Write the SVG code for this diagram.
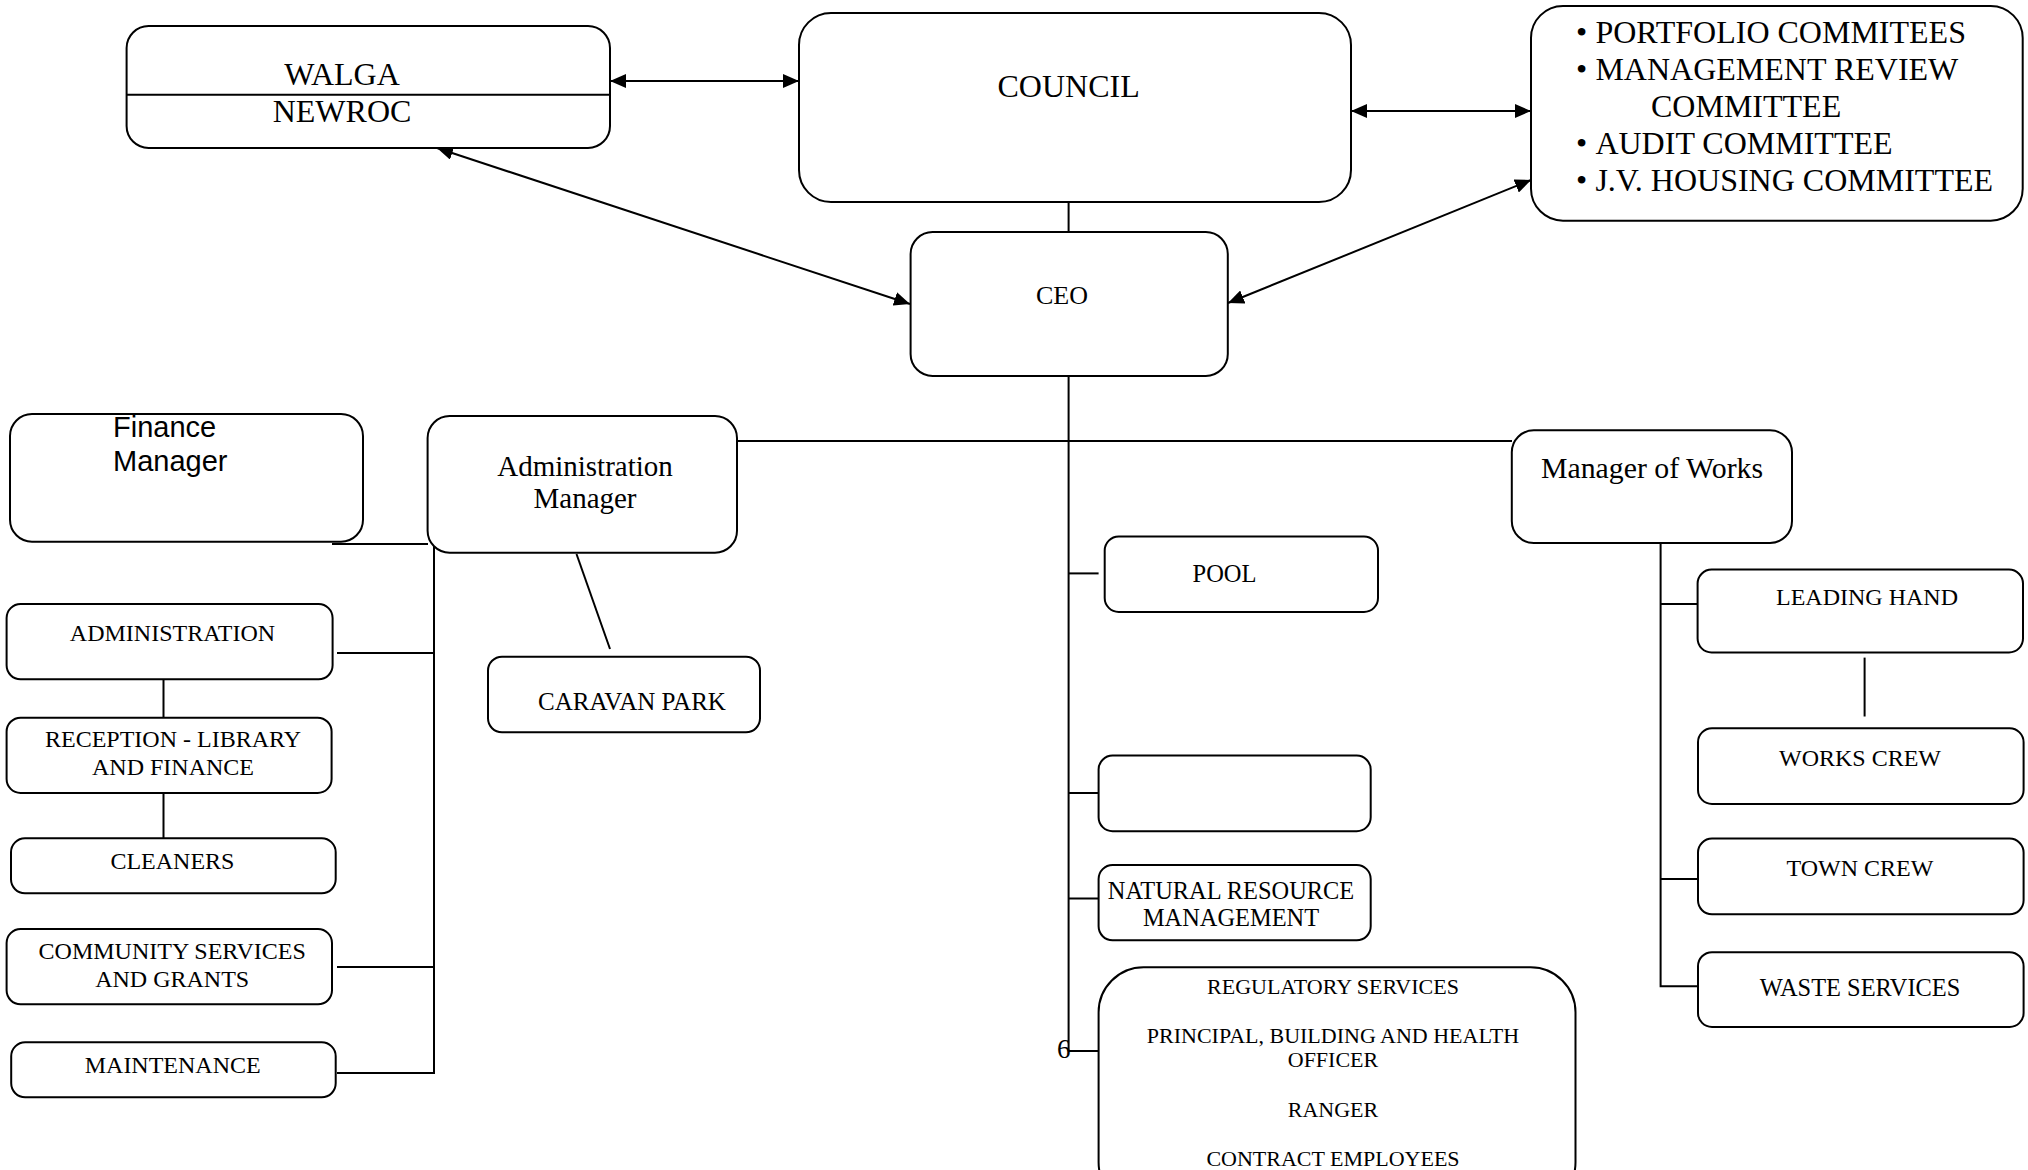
<svg xmlns="http://www.w3.org/2000/svg" width="2028" height="1170" viewBox="0 0 2028 1170">
<style>
.box{fill:#fff;stroke:#000;stroke-width:2}
.ln{fill:none;stroke:#000;stroke-width:2}
.arr{fill:none;stroke:#000;stroke-width:2;marker-start:url(#ah);marker-end:url(#ah)}
.t{font-family:"Liberation Serif","Times New Roman",serif;fill:#000}
.s{font-family:"Liberation Sans",Arial,sans-serif;fill:#000}
.c{text-anchor:middle}
</style>
<defs>
<marker id="ah" viewBox="0 0 16 14" refX="16" refY="7" markerWidth="16" markerHeight="14" markerUnits="userSpaceOnUse" orient="auto-start-reverse">
<path d="M0,0 L16,7 L0,14 z" fill="#000"/>
</marker>
</defs>
<rect width="2028" height="1170" fill="#fff"/>

<g id="connectors">
<line class="arr" x1="610" y1="81" x2="799" y2="81"/>
<line class="arr" x1="1351" y1="111" x2="1531" y2="111"/>
<line class="arr" x1="437" y1="148" x2="910" y2="304"/>
<line class="arr" x1="1228" y1="303" x2="1531" y2="180"/>
<line class="ln" x1="1068.6" y1="202" x2="1068.6" y2="232"/>
<line class="ln" x1="1068.6" y1="376" x2="1068.6" y2="1051"/>
<line class="ln" x1="737" y1="441" x2="1512" y2="441"/>
<line class="ln" x1="332" y1="544" x2="428" y2="544"/>
<polyline class="ln" points="434,544 434,1073 337,1073"/>
<line class="ln" x1="337" y1="653" x2="434" y2="653"/>
<line class="ln" x1="337" y1="967" x2="434" y2="967"/>
<line class="ln" x1="163.5" y1="679" x2="163.5" y2="718"/>
<line class="ln" x1="163.5" y1="793" x2="163.5" y2="838"/>
<line class="ln" x1="576.5" y1="554" x2="610" y2="649"/>
<line class="ln" x1="1068.6" y1="573.4" x2="1098.6" y2="573.4"/>
<line class="ln" x1="1068.6" y1="793" x2="1098.6" y2="793"/>
<line class="ln" x1="1068.6" y1="898.5" x2="1098.6" y2="898.5"/>
<line class="ln" x1="1068.6" y1="1051" x2="1098.6" y2="1051"/>
<polyline class="ln" points="1660.6,543 1660.6,986.3 1698,986.3"/>
<line class="ln" x1="1660.6" y1="604" x2="1698" y2="604"/>
<line class="ln" x1="1660.6" y1="879" x2="1698" y2="879"/>
<line class="ln" x1="1864.6" y1="657.6" x2="1864.6" y2="716.5"/>
</g>

<g id="walga">
<rect class="box" x="126.6" y="26" width="483.4" height="122" rx="22"/>
<line class="ln" x1="126.6" y1="94.7" x2="610" y2="94.7"/>
<text class="t c" x="342" y="85" font-size="32">WALGA</text>
<text class="t c" x="342" y="122" font-size="32">NEWROC</text>
</g>

<g id="council">
<rect class="box" x="799" y="13" width="552" height="189" rx="32"/>
<text class="t c" x="1068.6" y="97" font-size="32">COUNCIL</text>
</g>

<g id="committees">
<rect class="box" x="1531" y="6" width="491.7" height="214.7" rx="32"/>
<g class="t" font-size="32">
<text x="1576" y="42.7">•</text><text x="1595.4" y="42.7">PORTFOLIO COMMITEES</text>
<text x="1576" y="80">•</text><text x="1595.4" y="80">MANAGEMENT REVIEW</text>
<text x="1651" y="117.3">COMMITTEE</text>
<text x="1576" y="154">•</text><text x="1595.4" y="154">AUDIT COMMITTEE</text>
<text x="1576" y="191">•</text><text x="1595.4" y="191">J.V. HOUSING COMMITTEE</text>
</g>
</g>

<g id="ceo">
<rect class="box" x="910.6" y="232" width="317.2" height="144" rx="22"/>
<text class="t c" x="1062" y="304" font-size="26">CEO</text>
</g>

<g id="finance-manager">
<rect class="box" x="10" y="414" width="353" height="127.7" rx="22"/>
<text class="s" x="113" y="437" font-size="29">Finance</text>
<text class="s" x="113" y="470.7" font-size="29">Manager</text>
</g>

<g id="admin-manager">
<rect class="box" x="427.6" y="416" width="309.4" height="136.7" rx="22"/>
<text class="t c" x="585" y="476" font-size="29">Administration</text>
<text class="t c" x="585" y="508" font-size="29">Manager</text>
</g>

<g id="caravan-park">
<rect class="box" x="488" y="656.7" width="272" height="75.6" rx="14"/>
<text class="t c" x="632" y="710" font-size="25">CARAVAN PARK</text>
</g>

<g id="administration">
<rect class="box" x="6.6" y="604" width="326" height="75.3" rx="14"/>
<text class="t c" x="172.5" y="640.7" font-size="24">ADMINISTRATION</text>
</g>

<g id="reception">
<rect class="box" x="6.6" y="717.7" width="325" height="75.3" rx="14"/>
<text class="t c" x="173" y="746.7" font-size="24">RECEPTION - LIBRARY</text>
<text class="t c" x="173" y="775" font-size="24">AND FINANCE</text>
</g>

<g id="cleaners">
<rect class="box" x="11" y="838.3" width="324.7" height="55" rx="14"/>
<text class="t c" x="172.4" y="869" font-size="24">CLEANERS</text>
</g>

<g id="community">
<rect class="box" x="6.6" y="929" width="325.4" height="75.3" rx="14"/>
<text class="t c" x="172.2" y="959" font-size="24">COMMUNITY SERVICES</text>
<text class="t c" x="172.2" y="986.7" font-size="24">AND GRANTS</text>
</g>

<g id="maintenance">
<rect class="box" x="11.2" y="1042.3" width="324.5" height="55" rx="14"/>
<text class="t c" x="172.7" y="1072.7" font-size="24">MAINTENANCE</text>
</g>

<g id="pool">
<rect class="box" x="1104.7" y="536.5" width="273.3" height="75.5" rx="14"/>
<text class="t c" x="1224.5" y="581.7" font-size="24.5">POOL</text>
</g>

<g id="empty-box">
<rect class="box" x="1098.6" y="755.6" width="272.1" height="75.6" rx="14"/>
</g>

<g id="nrm">
<rect class="box" x="1098.6" y="865" width="272.1" height="75.3" rx="14"/>
<text class="t c" x="1231" y="898.5" font-size="24.4">NATURAL RESOURCE</text>
<text class="t c" x="1231" y="925.5" font-size="24.4">MANAGEMENT</text>
</g>

<g id="regulatory">
<rect class="box" x="1098.6" y="967.3" width="476.9" height="240" rx="45"/>
<g class="t c" font-size="22">
<text x="1333" y="994.3">REGULATORY SERVICES</text>
<text x="1333" y="1043.4">PRINCIPAL, BUILDING AND HEALTH</text>
<text x="1333" y="1067">OFFICER</text>
<text x="1333" y="1117">RANGER</text>
<text x="1333" y="1166">CONTRACT EMPLOYEES</text>
</g>
</g>

<text class="t" x="1057" y="1058" font-size="27">6</text>

<g id="manager-of-works">
<rect class="box" x="1511.8" y="430.3" width="280.2" height="112.7" rx="22"/>
<text class="t c" x="1652" y="477.9" font-size="29.8">Manager of Works</text>
</g>

<g id="leading-hand">
<rect class="box" x="1697.6" y="569.6" width="325.4" height="82.9" rx="14"/>
<text class="t c" x="1867" y="605" font-size="24">LEADING HAND</text>
</g>

<g id="works-crew">
<rect class="box" x="1698" y="728.3" width="325.6" height="75.7" rx="14"/>
<text class="t c" x="1860" y="766" font-size="24">WORKS CREW</text>
</g>

<g id="town-crew">
<rect class="box" x="1698" y="838.6" width="325.6" height="75.7" rx="14"/>
<text class="t c" x="1860" y="875.6" font-size="24">TOWN CREW</text>
</g>

<g id="waste-services">
<rect class="box" x="1698" y="952.2" width="325.6" height="74.8" rx="14"/>
<text class="t c" x="1860" y="995.5" font-size="24.4">WASTE SERVICES</text>
</g>
</svg>
